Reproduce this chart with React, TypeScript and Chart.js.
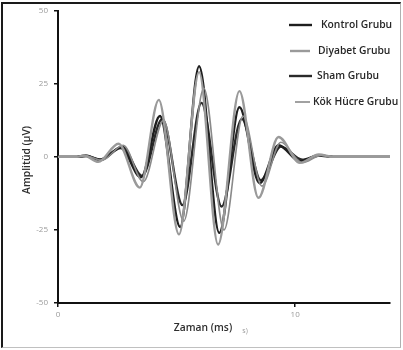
import React, { useEffect, useRef } from "react";
import { Chart, registerables } from "chart.js";

Chart.register(...registerables);

const seriesNames = ["Kontrol Grubu", "Diyabet Grubu", "Sham Grubu", "Kök Hücre Grubu"];
const seriesColors = ["#1e1e1e", "#9a9a9a", "#2a2a2a", "#8a8a8a"];
const seriesWidths = [2.4, 2.4, 2.4, 1.6];

const kontrolT = [0, 0.8, 1.15, 1.75, 2.65, 3.5, 4.3, 5.15, 5.95, 6.8, 7.65, 8.5, 9.3, 10.2, 11.0, 11.6, 14];
const kontrolV = [0, 0, 0.5, -1, 3, -7, 14, -24, 31, -26, 17, -9, 4, -1.5, 0.5, 0, 0];

const diyabetT = [0, 0.8, 1.1, 1.7, 2.55, 3.45, 4.25, 5.1, 5.95, 6.75, 7.65, 8.45, 9.3, 10.2, 11.0, 11.6, 14];
const diyabetV = [0, 0, 0.5, -1.7, 4.5, -10.5, 19.5, -26.5, 29, -30, 22.5, -14, 6.8, -2, 0.8, 0, 0];

const shamT = [0, 0.8, 1.2, 1.8, 2.7, 3.55, 4.4, 5.25, 6.05, 6.9, 7.75, 8.55, 9.4, 10.3, 11.0, 11.6, 14];
const shamV = [0, 0, 0.3, -1, 3.5, -6.5, 13, -16.5, 18.5, -17, 13, -8, 3.5, -1, 0.5, 0, 0];

const kokT = [0, 0.8, 1.2, 1.85, 2.75, 3.6, 4.45, 5.3, 6.15, 7.0, 7.8, 8.6, 9.4, 10.3, 11.1, 11.7, 14];
const kokV = [0, 0, 0.3, -1.2, 4, -8.5, 12.5, -22, 23.5, -25, 14, -10, 5, -2, 0.5, 0, 0];

const xTicks = [0, 10];
const yTicks = [-50, -25, 0, 25, 50];

const allT = [kontrolT, diyabetT, shamT, kokT];
const allV = [kontrolV, diyabetV, shamV, kokV];

const FONT = "'Open Sans', 'DejaVu Sans', sans-serif";

const overlayPlugin = {
  id: "overlay",
  afterDraw(chart: any) {
    const ctx = chart.ctx;
    const area = chart.chartArea;
    ctx.save();
    // legend
    const rows = [25, 51, 76, 102];
    const lineX = [[289, 312], [290, 310], [289, 312], [295, 310]];
    const textX = [321, 318, 317, 313];
    ctx.font = `600 10.3px ${FONT}`;
    ctx.textBaseline = "middle";
    ctx.textAlign = "left";
    for (let i = 0; i < seriesNames.length; i++) {
      ctx.strokeStyle = seriesColors[i];
      ctx.lineWidth = seriesWidths[i];
      ctx.beginPath();
      ctx.moveTo(lineX[i][0], rows[i]);
      ctx.lineTo(lineX[i][1], rows[i]);
      ctx.stroke();
      ctx.fillStyle = "#262626";
      ctx.fillText(seriesNames[i], textX[i], rows[i]);
    }
    // axis titles
    ctx.fillStyle = "#2e2e2e";
    ctx.font = `600 10.3px ${FONT}`;
    ctx.textAlign = "center";
    ctx.fillText("Zaman (ms)", 203, 328);
    ctx.font = `7px ${FONT}`;
    ctx.fillStyle = "#999";
    ctx.fillText("s)", 245, 331);
    ctx.save();
    ctx.translate(27, (area.top + area.bottom) / 2 + 3);
    ctx.rotate(-Math.PI / 2);
    ctx.font = `600 10.3px ${FONT}`;
    ctx.fillStyle = "#2e2e2e";
    ctx.fillText("Amplitüd (µV)", 0, 0);
    ctx.restore();
    ctx.restore();
  },
};

export default function App() {
  const ref = useRef<HTMLCanvasElement | null>(null);
  useEffect(() => {
    if (!ref.current) return;
    const datasets = seriesNames.map((name, i) => ({
      label: name,
      data: allT[i].map((t, j) => ({ x: t, y: allV[i][j] })),
      borderColor: seriesColors[i],
      borderWidth: seriesWidths[i],
      pointRadius: 0,
      cubicInterpolationMode: "monotone" as const,
      fill: false,
    }));
    const order = [1, 3, 0, 2];
    const ordered = order.map((k) => ({ ...datasets[k], order: 0 }));
    const chart = new Chart(ref.current, {
      type: "line",
      data: { datasets: ordered },
      options: {
        animation: false,
        responsive: false,
        maintainAspectRatio: false,
        layout: { padding: { left: 18, right: 13, top: 10, bottom: 7 } },
        plugins: { legend: { display: false }, tooltip: { enabled: false } },
        scales: {
          x: {
            type: "linear",
            min: 0,
            max: 14,
            border: { display: true, color: "#111", width: 2 },
            grid: { drawOnChartArea: false, drawTicks: true, tickLength: 4, color: "#111", lineWidth: 1.5 },
            afterBuildTicks: (s: any) => {
              s.ticks = xTicks.map((v) => ({ value: v }));
            },
            ticks: { color: "#9a9a9a", font: { size: 8, family: FONT }, padding: 3, maxRotation: 0 },
            afterFit: (s: any) => {
              s.height = 40;
            },
          },
          y: {
            type: "linear",
            min: -50,
            max: 50,
            border: { display: true, color: "#111", width: 2 },
            grid: { drawOnChartArea: false, drawTicks: true, tickLength: 4, color: "#111", lineWidth: 1.5 },
            afterBuildTicks: (s: any) => {
              s.ticks = yTicks.map((v) => ({ value: v }));
            },
            ticks: { color: "#9a9a9a", font: { size: 8, family: FONT }, padding: 6 },
            afterFit: (s: any) => {
              s.width = 40;
            },
          },
        },
      },
      plugins: [overlayPlugin],
    });
    return () => chart.destroy();
  }, []);
  return (
    <div
      style={{
        position: "fixed",
        left: 0,
        top: 0,
        width: 403,
        height: 350,
        background: "#fff",
        boxSizing: "border-box",
      }}
    >
      <div
        style={{
          position: "absolute",
          left: 1,
          top: 2,
          width: 400,
          height: 346,
          boxSizing: "border-box",
          borderTop: "2px solid #1a1a1a",
          borderLeft: "2px solid #1a1a1a",
          borderRight: "1px solid #b0b0b0",
          borderBottom: "1px solid #c0c0c0",
          pointerEvents: "none",
          zIndex: 2,
        }}
      />
      <canvas ref={ref} width={403} height={350} style={{ display: "block" }} />
    </div>
  );
}
